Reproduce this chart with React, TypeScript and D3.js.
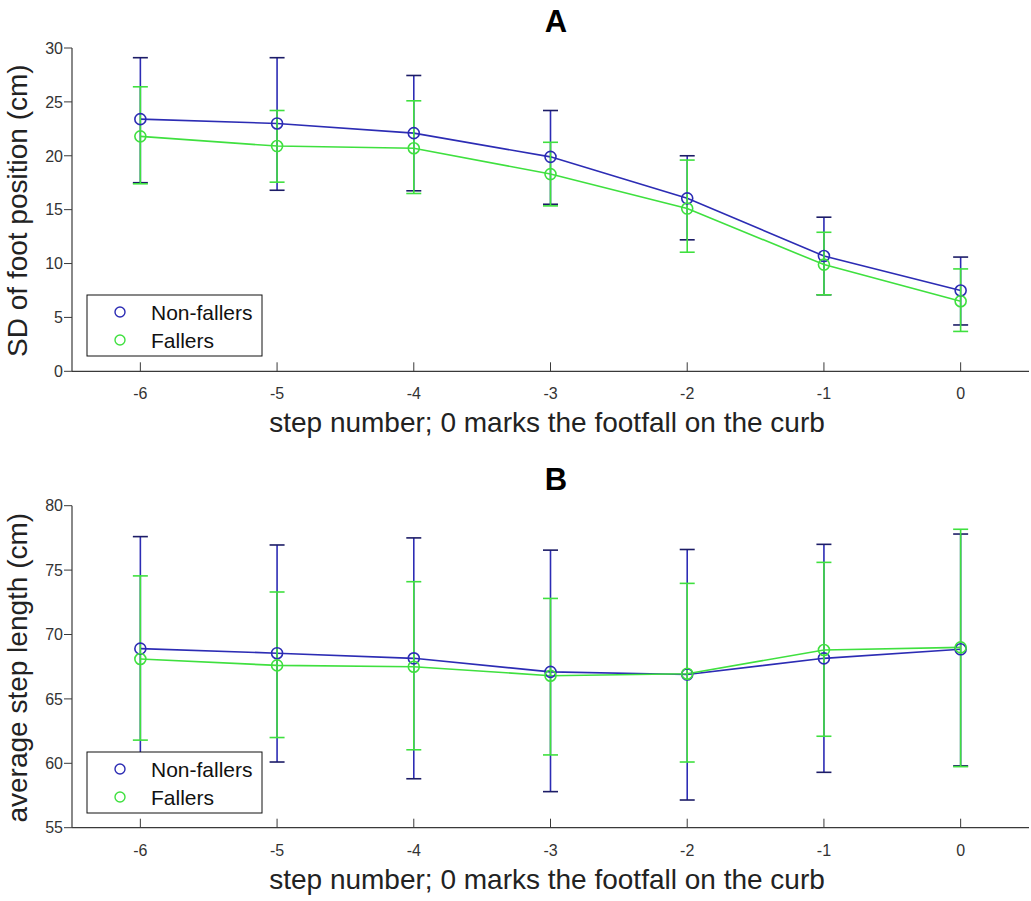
import * as d3 from "d3";

const W = 1031;
const H = 901;

// step numbers on x
const steps = [-6, -5, -4, -3, -2, -1, 0];

// panel A: SD of foot position (cm)
const sdNonMean = [23.4, 23.0, 22.1, 19.9, 16.05, 10.7, 7.5];
const sdNonHi = [29.1, 29.1, 27.45, 24.2, 20.0, 14.3, 10.6];
const sdNonLo = [17.5, 16.8, 16.75, 15.5, 12.2, 7.1, 4.3];
const sdFalMean = [21.8, 20.9, 20.7, 18.3, 15.1, 9.9, 6.5];
const sdFalHi = [26.4, 24.2, 25.1, 21.25, 19.6, 12.9, 9.5];
const sdFalLo = [17.4, 17.55, 16.5, 15.35, 11.05, 7.1, 3.7];

// panel B: average step length (cm)
const slNonMean = [68.9, 68.55, 68.15, 67.1, 66.9, 68.15, 68.85];
const slNonHi = [77.6, 76.95, 77.5, 76.55, 76.6, 77.0, 77.8];
const slNonLo = [60.2, 60.1, 58.8, 57.8, 57.15, 59.3, 59.8];
const slFalMean = [68.1, 67.6, 67.5, 66.8, 66.95, 68.8, 69.0];
const slFalHi = [74.55, 73.3, 74.1, 72.8, 73.97, 75.6, 78.17];
const slFalLo = [61.8, 62.0, 61.05, 60.65, 60.1, 62.1, 59.74];

const yTicksA = [0, 5, 10, 15, 20, 25, 30];
const yTicksB = [55, 60, 65, 70, 75, 80];

const BLUE = "#2c2cb4";
const BLUE_CAP = "#1c1c66";
const GREEN = "#3fe03f";
const AXIS = "#3a3a3a";
const FONT = "'Liberation Sans', Arial, sans-serif";

const xScale = d3.scaleLinear().domain([-6.5, 0.5]).range([72, 1029]);

type Series = { mean: number[]; hi: number[]; lo: number[]; color: string; cap: string };

const Panel = ({
  title,
  titleY,
  top,
  bottom,
  yDomain,
  yTicks,
  yLabel,
  series,
  legendTop,
}: {
  title: string;
  titleY: number;
  top: number;
  bottom: number;
  yDomain: [number, number];
  yTicks: number[];
  yLabel: string;
  series: Series[];
  legendTop: number;
}) => {
  const y = d3.scaleLinear().domain(yDomain).range([bottom, top]);
  const line = d3
    .line<number>()
    .x((_, i) => xScale(steps[i]))
    .y((d) => y(d));
  const x0 = xScale.range()[0];
  const x1 = xScale.range()[1];

  return (
    <g>
      <text x={556} y={titleY} textAnchor="middle" fontSize={31} fontWeight="bold" fontFamily={FONT} fill="#000">
        {title}
      </text>
      {/* axes */}
      <line x1={x0} x2={x1} y1={bottom} y2={bottom} stroke={AXIS} strokeWidth={1.2} />
      <line x1={x0} x2={x0} y1={top} y2={bottom} stroke={AXIS} strokeWidth={1.2} />
      {yTicks.map((t) => (
        <g key={t}>
          <line x1={x0 - 8} x2={x0} y1={y(t)} y2={y(t)} stroke={AXIS} strokeWidth={1} />
          <text x={x0 - 9} y={y(t)} dy="0.36em" textAnchor="end" fontSize={16} fontFamily={FONT} fill="#333">
            {t}
          </text>
        </g>
      ))}
      {steps.map((s) => (
        <g key={s}>
          <line x1={xScale(s)} x2={xScale(s)} y1={bottom} y2={bottom - 9} stroke={AXIS} strokeWidth={1} />
          <text x={xScale(s)} y={bottom + 28} textAnchor="middle" fontSize={16} fontFamily={FONT} fill="#333">
            {s}
          </text>
        </g>
      ))}
      <text
        transform={`translate(27,${(top + bottom) / 2 + 1}) rotate(-90)`}
        textAnchor="middle"
        fontSize={28}
        fontFamily={FONT}
        fill="#222"
      >
        {yLabel}
      </text>
      <text x={547} y={bottom + 61} textAnchor="middle" fontSize={28} fontFamily={FONT} fill="#222">
        step number; 0 marks the footfall on the curb
      </text>
      {/* series: error bars and lines first, then markers */}
      {series.map((sr, k) => (
        <g key={k}>
          <path d={line(sr.mean) ?? ""} fill="none" stroke={sr.color} strokeWidth={1.6} />
          {steps.map((s, i) => {
            const cx = xScale(s);
            return (
              <g key={s}>
                <line x1={cx} x2={cx} y1={y(sr.hi[i])} y2={y(sr.lo[i])} stroke={sr.color} strokeWidth={1.6} />
                <line x1={cx - 7.5} x2={cx + 7.5} y1={y(sr.hi[i])} y2={y(sr.hi[i])} stroke={sr.cap} strokeWidth={1.6} />
                <line x1={cx - 7.5} x2={cx + 7.5} y1={y(sr.lo[i])} y2={y(sr.lo[i])} stroke={sr.cap} strokeWidth={1.6} />
              </g>
            );
          })}
        </g>
      ))}
      {series.map((sr, k) => (
        <g key={`m${k}`}>
          {steps.map((s, i) => (
            <circle key={s} cx={xScale(s)} cy={y(sr.mean[i])} r={5.5} fill="none" stroke={sr.color} strokeWidth={1.6} />
          ))}
        </g>
      ))}
      {/* legend */}
      <rect x={87} y={legendTop} width={175} height={61} fill="#fff" stroke="#111" strokeWidth={1} />
      {[
        { label: "Non-fallers", color: BLUE },
        { label: "Fallers", color: GREEN },
      ].map((d, i) => (
        <g key={d.label}>
          <circle cx={120} cy={legendTop + 17 + i * 28} r={5} fill="none" stroke={d.color} strokeWidth={1.4} />
          <text x={151} y={legendTop + 17 + i * 28} dy="0.36em" fontSize={21} fontFamily={FONT} fill="#111">
            {d.label}
          </text>
        </g>
      ))}
    </g>
  );
};

export default function App() {
  return (
    <svg width={W} height={H} style={{ display: "block", position: "absolute", left: 0, top: 0, background: "#fff" }}>
      <Panel
        title="A"
        titleY={32}
        top={48}
        bottom={371.3}
        yDomain={[0, 30]}
        yTicks={yTicksA}
        yLabel="SD of foot position (cm)"
        legendTop={295}
        series={[
          { mean: sdNonMean, hi: sdNonHi, lo: sdNonLo, color: BLUE, cap: BLUE_CAP },
          { mean: sdFalMean, hi: sdFalHi, lo: sdFalLo, color: GREEN, cap: GREEN },
        ]}
      />
      <Panel
        title="B"
        titleY={490}
        top={505.7}
        bottom={827.7}
        yDomain={[55, 80]}
        yTicks={yTicksB}
        yLabel="average step length (cm)"
        legendTop={752}
        series={[
          { mean: slNonMean, hi: slNonHi, lo: slNonLo, color: BLUE, cap: BLUE_CAP },
          { mean: slFalMean, hi: slFalHi, lo: slFalLo, color: GREEN, cap: GREEN },
        ]}
      />
    </svg>
  );
}
